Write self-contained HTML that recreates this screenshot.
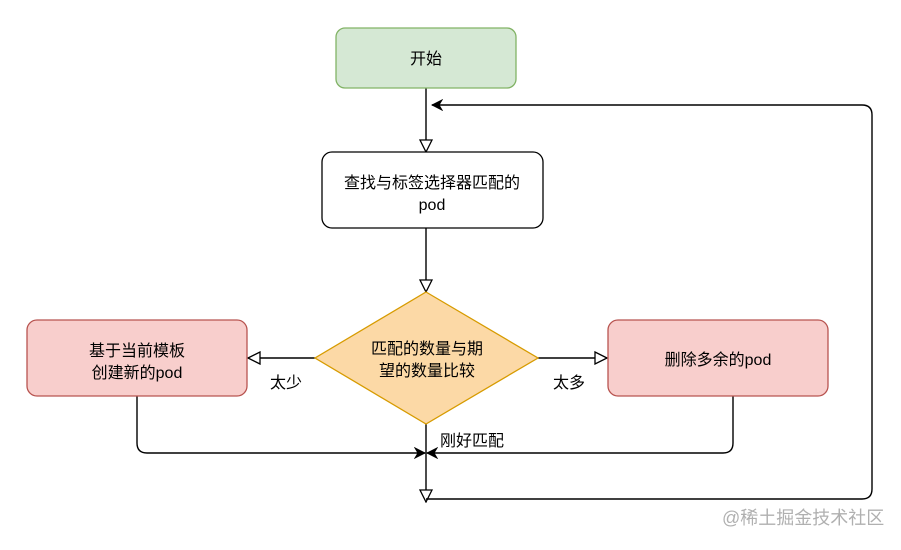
<!DOCTYPE html>
<html><head><meta charset="utf-8"><style>
body{margin:0;background:#fff}
text{font-family:"Liberation Sans","Noto Sans CJK SC",sans-serif;font-size:16px;fill:#000}
</style></head><body>
<svg width="901" height="545" xmlns="http://www.w3.org/2000/svg">
<defs>
<marker id="open" markerWidth="14" markerHeight="14" refX="13" refY="7" orient="auto" markerUnits="userSpaceOnUse">
<path d="M1,1 L13,7 L1,13 Z" fill="#fff" stroke="#000" stroke-width="1.3"/></marker>
<marker id="fill" markerWidth="12" markerHeight="12" refX="11" refY="6" orient="auto" markerUnits="userSpaceOnUse">
<path d="M1,1 L11,6 L1,11 L4,6 Z" fill="#000" stroke="#000"/></marker>
</defs>
<g fill="none" stroke="#000" stroke-width="1.4">
<path d="M426,88 V152" marker-end="url(#open)"/>
<path d="M426,228 V292" marker-end="url(#open)"/>
<path d="M315,358 H248" marker-end="url(#open)"/>
<path d="M538,358 H607" marker-end="url(#open)"/>
<path d="M426,424 V502" marker-end="url(#open)"/>
<path d="M137,396 V443 Q137,453 147,453 H425" marker-end="url(#fill)"/>
<path d="M733,396 V443 Q733,453 723,453 H427" marker-end="url(#fill)"/>
<path d="M426,499 H862 Q872,499 872,489 V115 Q872,105 862,105 H432" marker-end="url(#fill)"/>
</g>
<rect x="336" y="28" width="180" height="60" rx="9" fill="#d5e8d4" stroke="#82b366" stroke-width="1.3"/>
<text x="426" y="64" text-anchor="middle">开始</text>
<rect x="322" y="152" width="221" height="76" rx="10" fill="#fff" stroke="#000" stroke-width="1.3"/>
<text x="432" y="188" text-anchor="middle">查找与标签选择器匹配的</text>
<text x="432" y="210" text-anchor="middle">pod</text>
<path d="M426,292 L538,358 L426,424 L315,358 Z" fill="#fcd9a6" stroke="#d79b00" stroke-width="1.3"/>
<text x="427" y="354" text-anchor="middle">匹配的数量与期</text>
<text x="427" y="376" text-anchor="middle">望的数量比较</text>
<rect x="27" y="320" width="220" height="76" rx="10" fill="#f8cecc" stroke="#b85450" stroke-width="1.3"/>
<text x="137" y="356" text-anchor="middle">基于当前模板</text>
<text x="137" y="378" text-anchor="middle">创建新的pod</text>
<rect x="608" y="320" width="220" height="76" rx="10" fill="#f8cecc" stroke="#b85450" stroke-width="1.3"/>
<text x="718" y="365" text-anchor="middle">删除多余的pod</text>
<text x="270" y="388">太少</text>
<text x="553" y="388">太多</text>
<text x="440" y="446">刚好匹配</text>
<text x="722" y="524" style="fill:#b0b0b0;font-size:18px">@稀土掘金技术社区</text>
</svg>
</body></html>
